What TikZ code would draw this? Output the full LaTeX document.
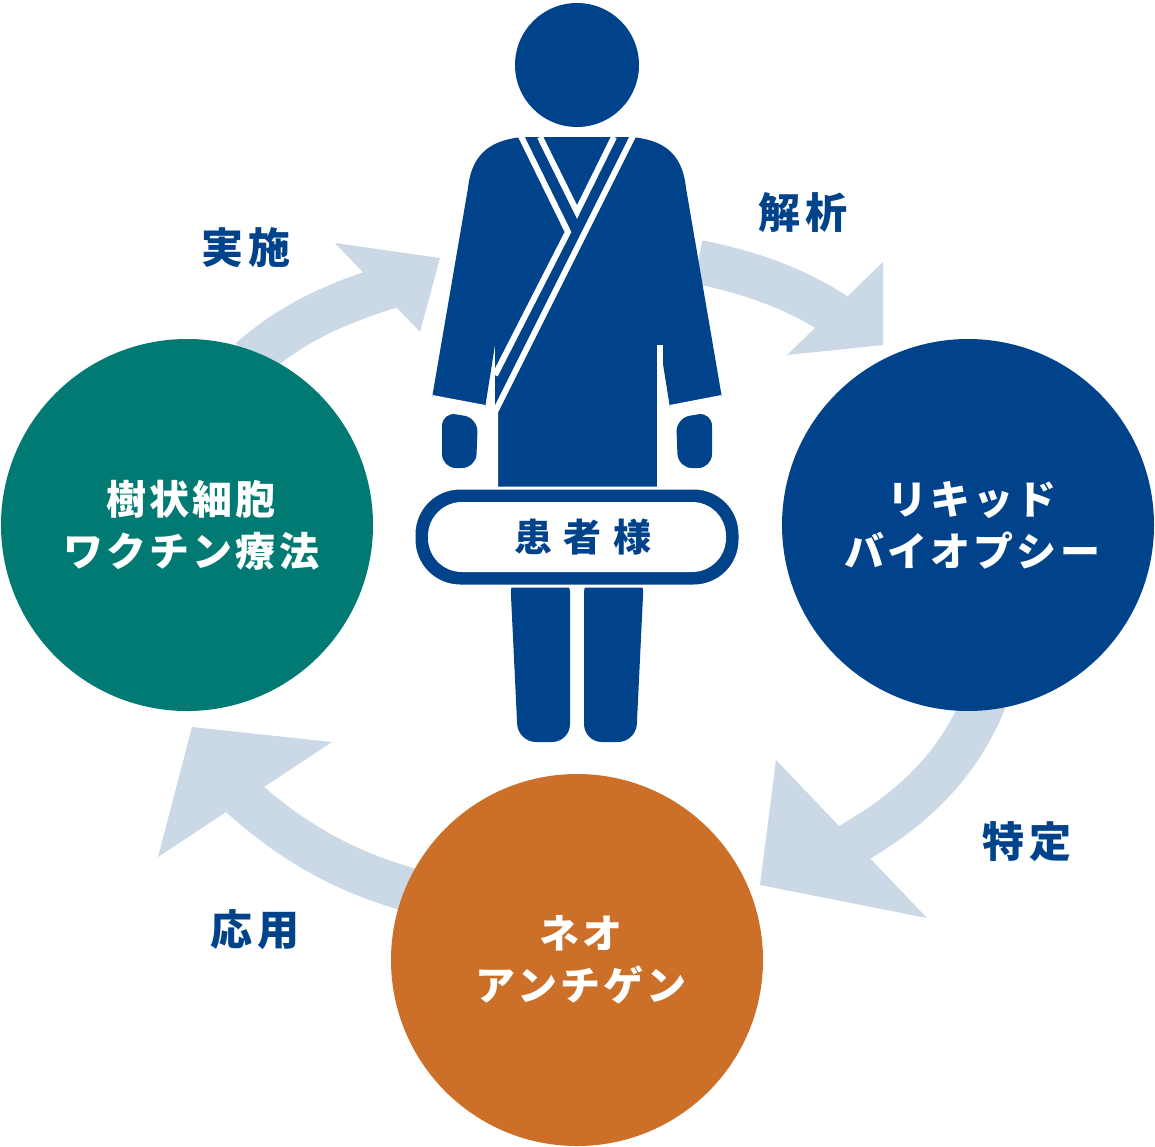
\documentclass[tikz,border=0pt]{standalone}
\usepackage{fontspec}
\newfontfamily\jp[BoldFont={Noto Sans CJK JP Black}]{Noto Sans CJK JP}
\usetikzlibrary{positioning}
\definecolor{navy}{HTML}{00438A}
\definecolor{teal}{HTML}{007A73}
\definecolor{ochre}{HTML}{CC6F28}
\definecolor{pale}{HTML}{CBD8E6}
\newcommand\pad{\hspace*{8pt}}
\tikzset{
  band/.style={draw=pale, line width=44pt},
  head/.style={fill=pale},
  stage/.style={circle, minimum size=372pt, inner sep=0pt, text=white, align=center,
    font=\jp\bfseries\fontsize{40}{52}\selectfont\addfontfeature{LetterSpace=8}},
  verb/.style={text=navy, font=\jp\bfseries\fontsize{42}{44}\selectfont\addfontfeature{LetterSpace=12}},
  seam/.style={draw=white, line width=6pt}
}
\begin{document}
\begin{tikzpicture}[x=1pt,y=-1pt]
\useasboundingbox (0,0) rectangle (1155,1146);

% arrows
\draw[band] (250,360) .. controls (290,325) and (330,305) .. (395,285);
\fill[head] (335,243) -- (440,258) -- (420,332) -- cycle;
\draw[band] (698,262) .. controls (750,272) and (800,290) .. (840,318);
\fill[head] (883,262) -- (883,345) -- (787,355) -- cycle;
\draw[band] (985,700) .. controls (960,760) and (920,805) .. (850,845);
\fill[head] (776,760) -- (927,918) -- (760,885) -- cycle;
\draw[band] (410,890) .. controls (340,870) and (290,840) .. (240,795);
\fill[head] (332,742) -- (158,857) -- (192,727) -- cycle;

% stages
\node[stage, fill=teal] (vaccine) at (187,525) {\pad 樹状細胞\\\pad ワクチン療法};
\node[stage, fill=navy] (biopsy) at (968,525) {\pad リキッド\\\pad バイオプシー};
\node[stage, fill=ochre] (antigen) at (577,960) {\pad ネオ\\\pad アンチゲン};

% person
\fill[navy] (577,65) circle (62);
\fill[navy] (468,188) .. controls (472,150) and (495,140) .. (522,137) -- (632,137)
  .. controls (660,140) and (682,150) .. (686,188) -- (722,398) -- (670,408)
  -- (660,345) -- (660,495) -- (495,495) -- (495,345) -- (485,408) -- (432,398) -- cycle;
\fill[navy, rounded corners=14] (442,412) -- (478,418) -- (476,468) -- (442,468) -- cycle;
\fill[navy, rounded corners=14] (712,412) -- (676,418) -- (678,468) -- (712,468) -- cycle;
\fill[navy, rounded corners=18] (510,575) -- (570,575) -- (570,742) -- (518,742) -- cycle;
\fill[navy, rounded corners=18] (584,575) -- (644,575) -- (636,742) -- (584,742) -- cycle;
\draw[seam] (518,130) -- (568,232) -- (495,375);
\draw[seam] (636,130) -- (495,412) -- (495,495);
\draw[seam] (540,137) -- (577,212) -- (614,137);
\draw[seam] (660,345) -- (660,495);
\draw[seam] (577,575) -- (577,742);
\draw[seam] (432,398) -- (485,408);
\draw[seam] (722,398) -- (670,408);

% banner
\filldraw[fill=navy, draw=white, line width=3pt, rounded corners=46] (414,488) rectangle (740,586);
\fill[white, rounded corners=34] (428,502) rectangle (726,572);
\node[text=navy, font=\jp\bfseries\fontsize{38}{40}\selectfont\addfontfeature{LetterSpace=30}] (patient) at (583,537) {患者様};

% verbs
\node[verb] (impl) at (246,248) {実施};
\node[verb] (anal) at (803,213) {解析};
\node[verb] (spec) at (1027,842) {特定};
\node[verb] (appl) at (255,930) {応用};
\end{tikzpicture}
\end{document}
